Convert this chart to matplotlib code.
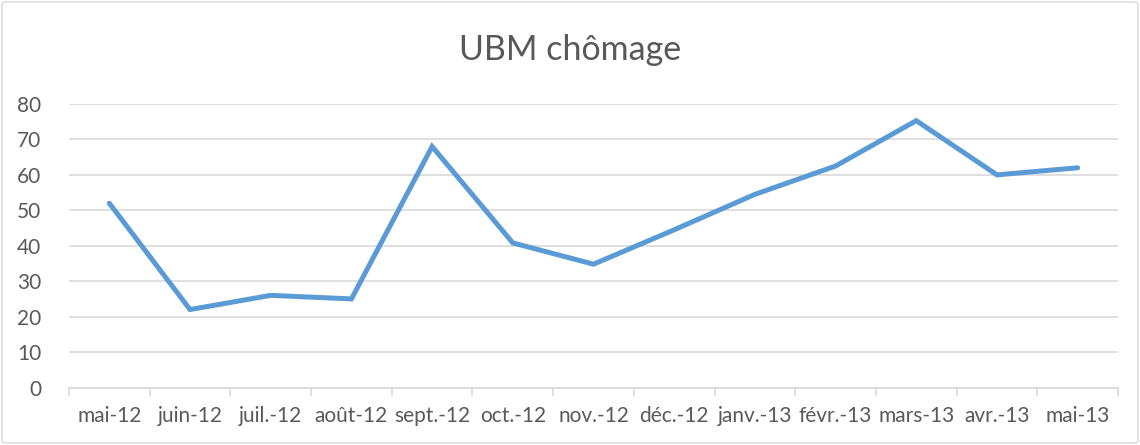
import matplotlib
matplotlib.use("Agg")
import matplotlib.pyplot as plt
from matplotlib.patches import FancyBboxPatch
from matplotlib.ticker import FixedLocator, NullFormatter

months = ["mai-12", "juin-12", "juil.-12", "août-12", "sept.-12", "oct.-12",
          "nov.-12", "déc.-12", "janv.-13", "févr.-13", "mars-13", "avr.-13", "mai-13"]
values = [52, 22, 26, 25, 68, 40.8, 34.8, 44.5, 54.5, 62.5, 75.3, 60, 62]
y_ticks = [0, 10, 20, 30, 40, 50, 60, 70, 80]

plt.rcParams["font.family"] = ["Lato", "DejaVu Sans"]
text_color = "#595959"
grid_color = "#D9D9D9"

W, H = 1140, 445
fig = plt.figure(figsize=(W / 100, H / 100), dpi=100)

# chart frame
frame = FancyBboxPatch((2 / W, 2 / H), (W - 4) / W, (H - 4) / H,
                       boxstyle="round,pad=0,rounding_size=0.004",
                       transform=fig.transFigure, fill=False,
                       edgecolor=grid_color, linewidth=1.0)
fig.patches.append(frame)

left, right, top, bottom = 69, 1118, 104, 387.5
ax = fig.add_axes([left / W, 1 - bottom / H, (right - left) / W, (bottom - top) / H])

x = list(range(len(months)))
ax.plot(x, values, color="#5B9BD5", linewidth=3.6, solid_capstyle="round",
        solid_joinstyle="miter", zorder=3)

ax.set_xlim(-0.5, len(months) - 0.5)
ax.set_ylim(0, 80)

ax.set_yticks(y_ticks)
ax.set_yticklabels([str(v) for v in y_ticks])
ax.yaxis.grid(True, color=grid_color, linewidth=1.2)
ax.set_axisbelow(True)

ax.set_xticks(x)
ax.set_xticklabels(months)
ax.xaxis.set_minor_locator(FixedLocator([i - 0.5 for i in range(len(months) + 1)]))
ax.xaxis.set_minor_formatter(NullFormatter())
ax.tick_params(axis="x", which="major", length=0, pad=13, labelsize=15, colors=text_color)
ax.tick_params(axis="x", which="minor", length=6, width=1.2, color=grid_color, direction="out")
ax.tick_params(axis="y", length=0, pad=20, labelsize=15, colors=text_color)

for side in ("top", "right", "left"):
    ax.spines[side].set_visible(False)
ax.spines["bottom"].set_color(grid_color)
ax.spines["bottom"].set_linewidth(1.2)

fig.text(0.5, 1 - 50 / H, "UBM chômage", ha="center", va="center",
         fontsize=24.5, color=text_color)

fig.savefig("out.png", dpi=100)
